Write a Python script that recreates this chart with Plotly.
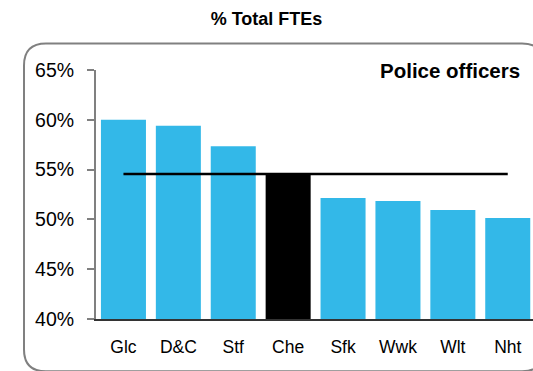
import plotly.graph_objects as go

# Share of total FTEs that are police officers, by force
forces = ["Glc", "D&C", "Stf", "Che", "Sfk", "Wwk", "Wlt", "Nht"]
police_pct = [60.0, 59.4, 57.35, 54.6, 52.15, 51.85, 50.95, 50.15]
highlight = "Che"
group_average = 54.55
y_ticks = [40, 45, 50, 55, 60, 65]
y_tick_text = [f"{v}%" for v in y_ticks]

BLUE = "#33B8E8"
FONT = "Arial, Liberation Sans, Helvetica, sans-serif"

W, H = 533, 371
ML, MR, MT, MB = 96, 0, 69.5, 51.5
PW, PH = W - ML - MR, H - MT - MB


def to_paper(px, py):
    return (px - ML) / PW, (H - MB - py) / PH


def rounded_rect(x0, y0, x1, y1, r):
    pts = [
        ("M", [(x0 + r, y0)]),
        ("L", [(x1 - r, y0)]),
        ("Q", [(x1, y0), (x1, y0 + r)]),
        ("L", [(x1, y1 - r)]),
        ("Q", [(x1, y1), (x1 - r, y1)]),
        ("L", [(x0 + r, y1)]),
        ("Q", [(x0, y1), (x0, y1 - r)]),
        ("L", [(x0, y0 + r)]),
        ("Q", [(x0, y0), (x0 + r, y0)]),
    ]
    out = []
    for cmd, ps in pts:
        coords = " ".join("%.5f,%.5f" % to_paper(*p) for p in ps)
        out.append(cmd + coords)
    return " ".join(out) + " Z"


colors = ["black" if f == highlight else BLUE for f in forces]

fig = go.Figure()
fig.add_trace(go.Bar(
    x=forces, y=police_pct, marker=dict(color=colors, line=dict(width=0)),
    width=0.82, showlegend=False, hoverinfo="x+y",
))
fig.add_trace(go.Scatter(
    x=[forces[0], forces[-1]], y=[group_average, group_average],
    mode="lines", line=dict(color="black", width=2.5), showlegend=False,
))

fig.update_layout(
    width=W, height=H,
    margin=dict(l=ML, r=MR, t=MT, b=MB, autoexpand=False),
    paper_bgcolor="white", plot_bgcolor="white",
    font=dict(family=FONT, color="black"),
    title=dict(text="<b>% Total FTEs</b>", x=0.5, xref="container", xanchor="center",
               y=1 - 18.5 / H, yref="container", yanchor="middle",
               font=dict(size=18, family=FONT)),
    xaxis=dict(
        type="category", range=[-0.5, -0.5 + PW / 54.9],
        showline=True, linecolor="#333333", linewidth=1.5,
        ticks="", showgrid=False, zeroline=False,
        tickfont=dict(size=17.5, family=FONT), ticklabelstandoff=11,
    ),
    yaxis=dict(
        range=[40, 65], tickmode="array", tickvals=y_ticks, ticktext=y_tick_text,
        showline=True, linecolor="#808080", linewidth=2,
        ticks="outside", ticklen=7, tickwidth=1.5, tickcolor="#808080",
        showgrid=False, zeroline=False,
        tickfont=dict(size=19.5, family=FONT), ticklabelstandoff=9,
    ),
    shapes=[dict(
        type="path", xref="paper", yref="paper", layer="below",
        path=rounded_rect(24, 43, 544, 372, 22),
        line=dict(color="#808080", width=2),
    )],
    annotations=[dict(
        text="<b>Police officers</b>", xref="paper", yref="paper",
        x=to_paper(522, 0)[0], y=to_paper(0, 70)[1],
        xanchor="right", yanchor="middle", showarrow=False,
        font=dict(size=20.5, family=FONT),
    )],
)

fig.write_html("out.html")
